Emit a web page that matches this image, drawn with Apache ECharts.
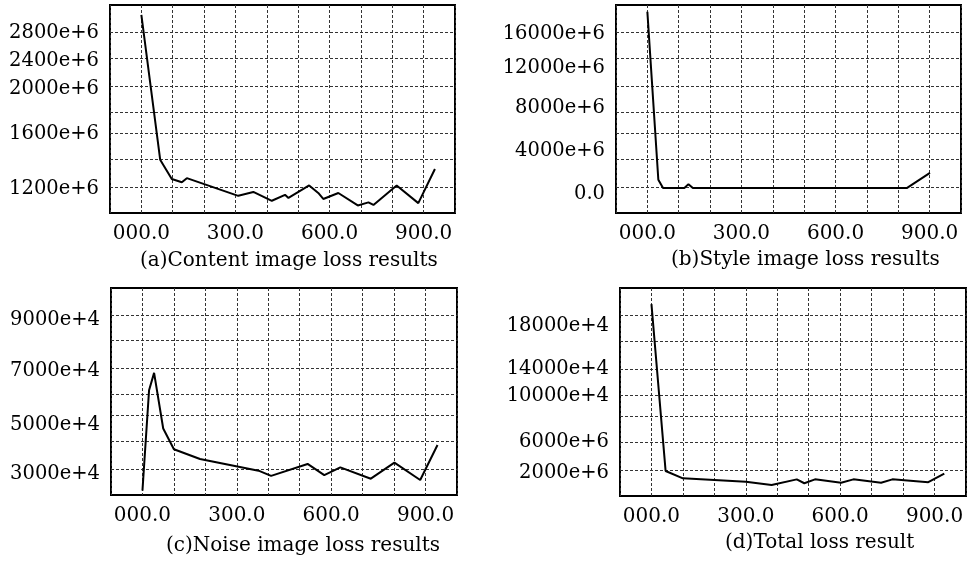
<!DOCTYPE html>
<html>
<head>
<meta charset="utf-8">
<script src="https://cdn.jsdelivr.net/npm/echarts@6/dist/echarts.min.js"></script>
<style>
html, body { margin: 0; padding: 0; background: #fff; }
#chart { width: 971px; height: 563px; }
</style>
</head>
<body>
<div id="chart"></div>
<script>
// x axis (iterations), labels only every third grid line
var xTickValues = [0, 300, 600, 900];
var xTickLabels = ['000.0', '300.0', '600.0', '900.0'];

// the printed y labels are not evenly spaced, so the y axes are read in
// plot rows: 0 = bottom of the frame, 8 = top of the frame
var gridRows = [0.98, 2.06, 3.07, 3.89, 4.89, 5.97, 6.95];

// (a) content loss
var contentLabels = ['1200e+6', '1600e+6', '2000e+6', '2400e+6', '2800e+6'];
var contentLabelRows = [0.93, 3.05, 4.76, 5.86, 6.91];
var contentIter = [0, 60, 97, 129, 145, 309, 357, 416, 458, 469, 535, 564, 580, 628, 690, 724, 740, 814, 883, 936];
var contentLoss = [7.62, 2.05, 1.31, 1.18, 1.34, 0.66, 0.81, 0.47, 0.70, 0.58, 1.06, 0.77, 0.54, 0.77, 0.29, 0.41, 0.31, 1.06, 0.38, 1.69];

// (b) style loss
var styleLabels = ['0.0', '4000e+6', '8000e+6', '12000e+6', '16000e+6'];
var styleLabelRows = [0.74, 2.37, 4.03, 5.57, 6.87];
var styleIter = [0, 35, 50, 118, 131, 145, 827, 901];
var styleLoss = [7.74, 1.28, 0.96, 0.96, 1.11, 0.96, 0.96, 1.54];

// (c) noise loss
var noiseLabels = ['3000e+4', '5000e+4', '7000e+4', '9000e+4'];
var noiseLabelRows = [0.81, 2.70, 4.78, 6.75];
var noiseIter = [0, 21, 37, 66, 100, 183, 369, 409, 525, 578, 629, 726, 801, 883, 938];
var noiseLoss = [0.17, 4.05, 4.72, 2.57, 1.77, 1.39, 0.94, 0.74, 1.20, 0.77, 1.07, 0.63, 1.25, 0.58, 1.93];

// (d) total loss
var totalLabels = ['2000e+6', '6000e+6', '10000e+4', '14000e+4', '18000e+4'];
var totalLabelRows = [0.90, 2.07, 3.86, 4.89, 6.56];
var totalIter = [0, 45, 100, 300, 382, 462, 486, 520, 603, 642, 730, 766, 880, 931];
var totalLoss = [7.38, 0.96, 0.68, 0.55, 0.42, 0.64, 0.49, 0.64, 0.51, 0.64, 0.51, 0.64, 0.53, 0.86];

var titles = ['(a)Content image loss results', '(b)Style image loss results',
  '(c)Noise image loss results', '(d)Total loss result'];

var panels = [
  { iter: contentIter, loss: contentLoss, labels: contentLabels, rows: contentLabelRows,
    grid: { left: 110, top: 5, width: 345, height: 208 }, title: { left: 140, top: 251 } },
  { iter: styleIter, loss: styleLoss, labels: styleLabels, rows: styleLabelRows,
    grid: { left: 616, top: 5, width: 345, height: 208 }, title: { left: 671, top: 250 } },
  { iter: noiseIter, loss: noiseLoss, labels: noiseLabels, rows: noiseLabelRows,
    grid: { left: 111, top: 288, width: 346, height: 207 }, title: { left: 166, top: 536 } },
  { iter: totalIter, loss: totalLoss, labels: totalLabels, rows: totalLabelRows,
    grid: { left: 620, top: 288, width: 346, height: 208 }, title: { left: 725, top: 533 } }
];

var font = 'DejaVu Serif';
var dash = { color: '#333', width: 1, type: [3, 2] };

function pairs(xs, ys) {
  var out = [];
  for (var i = 0; i < xs.length; i++) out.push([xs[i], ys[i]]);
  return out;
}

var option = { animation: false, backgroundColor: '#fff', title: [], grid: [], xAxis: [], yAxis: [], series: [] };

panels.forEach(function (p, i) {
  option.title.push({
    text: titles[i], left: p.title.left, top: p.title.top, padding: 0,
    textStyle: { fontFamily: font, fontSize: 20, fontWeight: 'normal', color: '#000' }
  });
  option.grid.push({
    left: p.grid.left, top: p.grid.top, width: p.grid.width, height: p.grid.height,
    outerBoundsMode: 'none', show: true, borderColor: '#000', borderWidth: 2, backgroundColor: 'transparent'
  });
  option.xAxis.push({
    gridIndex: i, type: 'value', min: -100, max: 1000, interval: 100,
    axisLine: { show: false }, axisTick: { show: false },
    splitLine: { show: true, lineStyle: dash },
    axisLabel: {
      customValues: xTickValues, margin: 11, color: '#000', fontFamily: font, fontSize: 20,
      formatter: function (v) { return xTickLabels[xTickValues.indexOf(v)]; }
    }
  });
  option.yAxis.push({
    gridIndex: i, type: 'value', min: 0, max: 8,
    axisLine: { show: false },
    axisTick: { show: false, customValues: gridRows },
    splitLine: { show: true, lineStyle: dash },
    axisLabel: {
      customValues: p.rows, margin: 11, color: '#000', fontFamily: font, fontSize: 19.5,
      formatter: function (v) { return p.labels[p.rows.indexOf(v)]; }
    }
  });
  option.series.push({
    type: 'line', xAxisIndex: i, yAxisIndex: i, data: pairs(p.iter, p.loss),
    symbol: 'none', silent: true, lineStyle: { color: '#000', width: 2 }
  });
});

var chart = echarts.init(document.getElementById('chart'));
chart.setOption(option);
</script>
</body>
</html>
